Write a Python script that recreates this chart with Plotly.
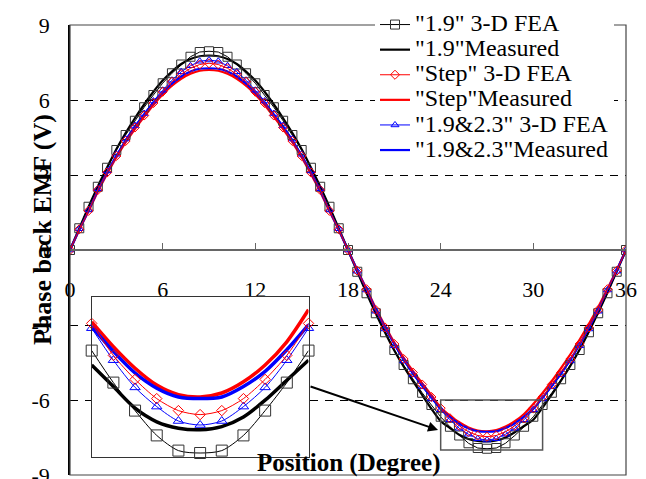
import plotly.graph_objects as go

# Rotor position (mechanical degrees)
POSITION = [0, 0.6, 1.2, 1.8, 2.4, 3, 3.6, 4.2, 4.8, 5.4, 6, 6.6, 7.2, 7.8, 8.4, 9,
            9.6, 10.2, 10.8, 11.4, 12, 12.6, 13.2, 13.8, 14.4, 15, 15.6, 16.2, 16.8, 17.4, 18,
            18.6, 19.2, 19.8, 20.4, 21, 21.6, 22.2, 22.8, 23.4, 24, 24.6, 25.2, 25.8, 26.4, 27,
            27.6, 28.2, 28.8, 29.4, 30, 30.6, 31.2, 31.8, 32.4, 33, 33.6, 34.2, 34.8, 35.4, 36]

# Phase back EMF (V) - 3-D FEA results
FEA_19 = [0, 0.87, 1.73, 2.53, 3.29, 4.0, 4.6, 5.17, 5.71, 6.2, 6.67, 7.07, 7.42, 7.73, 7.92, 7.95,
          7.92, 7.73, 7.42, 7.07, 6.67, 6.2, 5.71, 5.17, 4.6, 4.0, 3.29, 2.53, 1.73, 0.87, 0,
          -0.87, -1.73, -2.53, -3.29, -4.0, -4.6, -5.17, -5.71, -6.2, -6.67, -7.07, -7.42, -7.73, -7.92, -7.95,
          -7.92, -7.73, -7.42, -7.07, -6.67, -6.2, -5.71, -5.17, -4.6, -4.0, -3.29, -2.53, -1.73, -0.87, 0]
FEA_STEP = [0, 0.83, 1.57, 2.4, 3.1, 3.76, 4.36, 4.9, 5.38, 5.88, 6.33, 6.73, 7.03, 7.27, 7.42, 7.47,
            7.42, 7.27, 7.03, 6.73, 6.33, 5.88, 5.38, 4.9, 4.36, 3.76, 3.1, 2.4, 1.57, 0.83, 0,
            -0.83, -1.57, -2.4, -3.1, -3.76, -4.36, -4.9, -5.38, -5.88, -6.33, -6.73, -7.03, -7.27, -7.42, -7.47,
            -7.42, -7.27, -7.03, -6.73, -6.33, -5.88, -5.38, -4.9, -4.36, -3.76, -3.1, -2.4, -1.57, -0.83, 0]
FEA_1923 = [0, 0.85, 1.6, 2.45, 3.16, 3.83, 4.44, 4.98, 5.46, 5.96, 6.39, 6.79, 7.13, 7.37, 7.55, 7.6,
            7.55, 7.37, 7.13, 6.79, 6.39, 5.96, 5.46, 4.98, 4.44, 3.83, 3.16, 2.45, 1.6, 0.85, 0,
            -0.85, -1.6, -2.45, -3.16, -3.83, -4.44, -4.98, -5.46, -5.96, -6.39, -6.79, -7.13, -7.37, -7.55, -7.6,
            -7.55, -7.37, -7.13, -6.79, -6.39, -5.96, -5.46, -4.98, -4.44, -3.83, -3.16, -2.45, -1.6, -0.85, 0]

# Phase back EMF (V) - measured
MEAS_19 = [0, 0.86, 1.72, 2.54, 3.3, 4.03, 4.68, 5.27, 5.82, 6.33, 6.78, 7.14, 7.44, 7.64, 7.75, 7.78,
           7.75, 7.64, 7.44, 7.14, 6.78, 6.33, 5.82, 5.27, 4.68, 4.03, 3.3, 2.54, 1.72, 0.86, 0,
           -0.86, -1.72, -2.54, -3.3, -4.02, -4.66, -5.24, -5.8, -6.35, -6.85, -7.12, -7.39, -7.56, -7.64, -7.66,
           -7.62, -7.5, -7.29, -7.04, -6.79, -6.3, -5.78, -5.22, -4.63, -3.98, -3.26, -2.5, -1.7, -0.85, 0]
MEAS_STEP = [0, 0.8, 1.55, 2.33, 3.04, 3.7, 4.3, 4.84, 5.33, 5.8, 6.22, 6.57, 6.85, 7.05, 7.17, 7.2,
             7.17, 7.05, 6.85, 6.57, 6.22, 5.8, 5.33, 4.84, 4.3, 3.7, 3.04, 2.33, 1.55, 0.8, 0,
             -0.8, -1.55, -2.33, -3.04, -3.7, -4.3, -4.84, -5.33, -5.8, -6.31, -6.62, -6.89, -7.1, -7.22, -7.25,
             -7.2, -7.06, -6.85, -6.56, -6.16, -5.72, -5.24, -4.72, -4.17, -3.58, -2.95, -2.28, -1.55, -0.8, 0]
MEAS_1923 = [0, 0.82, 1.58, 2.38, 3.09, 3.76, 4.37, 4.92, 5.41, 5.88, 6.3, 6.65, 6.94, 7.14, 7.25, 7.27,
             7.25, 7.14, 6.94, 6.65, 6.3, 5.88, 5.41, 4.92, 4.37, 3.76, 3.09, 2.38, 1.58, 0.82, 0,
             -0.82, -1.58, -2.38, -3.09, -3.76, -4.37, -4.92, -5.41, -5.88, -6.37, -6.68, -6.95, -7.14, -7.25, -7.27,
             -7.25, -7.12, -6.93, -6.66, -6.35, -5.9, -5.43, -4.93, -4.38, -3.77, -3.1, -2.39, -1.6, -0.82, 0]

X_TICKS = [0, 6, 12, 18, 24, 30, 36]
Y_TICKS = [-9, -6, -3, 0, 3, 6, 9]
Y_TICK_TEXT = ["-9", "-6", "-3", "0", "3", "6", "9"]

# Zoomed window around the negative peak
ZOOM_X = [24, 30]
ZOOM_Y = [-8, -6]
ZOOM_BOX_X = [24, 30.6]

FONT = "Liberation Serif, Times New Roman, serif"
BLACK, RED, BLUE = "#000000", "#ff0000", "#0000ff"


def legend_label(s):
    return '<span style="font-size:24px">' + s + "</span>"


def window(values):
    xs, ys = [], []
    for x, y in zip(POSITION, values):
        if ZOOM_X[0] <= x <= ZOOM_X[1]:
            xs.append(x)
            ys.append(y)
    return xs, ys


fig = go.Figure()

measured = [
    ("\"1.9\"Measured", MEAS_19, BLACK, 2),
    ("\"Step\"Measured", MEAS_STEP, RED, 4),
    ("\"1.9&amp;2.3\"Measured", MEAS_1923, BLUE, 6),
]
fea = [
    ("\"1.9\" 3-D FEA", FEA_19, BLACK, "#333333", "square-open", 9, 11, 1),
    ("\"1.9&amp;2.3\" 3-D FEA", FEA_1923, BLUE, BLUE, "triangle-up-open", 7, 9, 5),
    ("\"Step\" 3-D FEA", FEA_STEP, RED, RED, "diamond-open", 7, 8, 3),
]

for name, vals, col, rank in measured:
    fig.add_trace(go.Scatter(
        x=POSITION, y=vals, mode="lines", name=legend_label(name),
        line=dict(color=col, width=2.2, shape="spline", smoothing=0.6),
        legendrank=rank))
for name, vals, col, mcol, sym, size, _, rank in fea:
    fig.add_trace(go.Scatter(
        x=POSITION, y=vals, mode="lines+markers", name=legend_label(name),
        line=dict(color=col, width=1),
        marker=dict(symbol=sym, size=size, color=mcol, line=dict(width=1, color=mcol)),
        legendrank=rank))

# Inset: the same series over the zoom window
for name, vals, col, rank in measured:
    xs, ys = window(vals)
    fig.add_trace(go.Scatter(
        x=xs, y=ys, mode="lines", xaxis="x2", yaxis="y2", showlegend=False,
        line=dict(color=col, width=3.5, shape="spline", smoothing=0.8)))
for name, vals, col, mcol, sym, _, isize, rank in fea:
    xs, ys = window(vals)
    fig.add_trace(go.Scatter(
        x=xs, y=ys, mode="lines+markers", xaxis="x2", yaxis="y2", showlegend=False,
        cliponaxis=False,
        line=dict(color=col, width=1, shape="spline", smoothing=0.8),
        marker=dict(symbol=sym, size=isize, color=mcol, line=dict(width=1, color=mcol))))

W, H = 646, 479
L, R, T, B = 70, 20, 25, 4
pw, ph = W - L - R, H - T - B


def px_x(p):
    return (p - L) / pw


def px_y(p):
    return (H - B - p) / ph


fig.update_layout(
    width=W, height=H, autosize=False,
    margin=dict(l=L, r=R, t=T, b=B, autoexpand=False),
    paper_bgcolor="white", plot_bgcolor="white",
    font=dict(family=FONT, color="black", size=22),
    xaxis=dict(
        domain=[0, 1], range=[0, 36], tickvals=X_TICKS,
        anchor="free", position=0.5, automargin=False,
        showline=True, linecolor="#666666", linewidth=1.5,
        ticks="inside", ticklen=6, tickcolor="#666666", tickwidth=1.2,
        tickfont=dict(size=22, family=FONT), ticklabelstandoff=20,
        showgrid=False, zeroline=False),
    yaxis=dict(
        domain=[0, 1], range=[-9, 9], tickvals=Y_TICKS, ticktext=Y_TICK_TEXT,
        automargin=False,
        showline=True, linecolor="black", linewidth=1.5, ticks="",
        tickfont=dict(size=22, family=FONT), ticklabelstandoff=14,
        ticklabeloverflow="allow",
        showgrid=True, gridcolor="black", gridwidth=1, griddash="8px,7px",
        zeroline=False),
    xaxis2=dict(
        domain=[px_x(91.7), px_x(308.5)], range=ZOOM_X, anchor="y2",
        showticklabels=False, ticks="", showgrid=False, zeroline=False,
        showline=True, mirror=True, linecolor="#333333", linewidth=1.3),
    yaxis2=dict(
        domain=[px_y(457), px_y(297)], range=ZOOM_Y, anchor="x2",
        showticklabels=False, ticks="", showgrid=False, zeroline=False,
        showline=True, mirror=True, linecolor="#333333", linewidth=1.3),
    legend=dict(
        x=px_x(375), y=px_y(7), xanchor="left", yanchor="top",
        bgcolor="white", borderwidth=0, itemwidth=30, tracegroupgap=0,
        font=dict(family=FONT, size=17, color="black")),
    shapes=[
        dict(type="rect", xref="paper", yref="paper", x0=0, x1=1, y0=0, y1=1,
             line=dict(color="#444444", width=1.2), layer="above"),
        dict(type="rect", xref="x", yref="y", x0=ZOOM_BOX_X[0], x1=ZOOM_BOX_X[1],
             y0=ZOOM_Y[0], y1=ZOOM_Y[1], line=dict(color="#555555", width=1.5)),
    ],
    annotations=[
        dict(text="<b>Phase back EMF (V)</b>", xref="paper", yref="paper",
             x=px_x(42), y=px_y(230), textangle=-90, showarrow=False,
             xanchor="center", yanchor="middle", font=dict(family=FONT, size=26)),
        dict(text="<b>Position (Degree)</b>", xref="paper", yref="paper",
             x=px_x(349), y=px_y(463), showarrow=False,
             xanchor="center", yanchor="middle", font=dict(family=FONT, size=25)),
        dict(text="", x=23.83, y=-7.2, xref="x", yref="y", ax=-129, ay=-44,
             showarrow=True, arrowhead=2, arrowsize=1, arrowwidth=2, arrowcolor="black"),
    ],
)

fig.write_html("out.html")
